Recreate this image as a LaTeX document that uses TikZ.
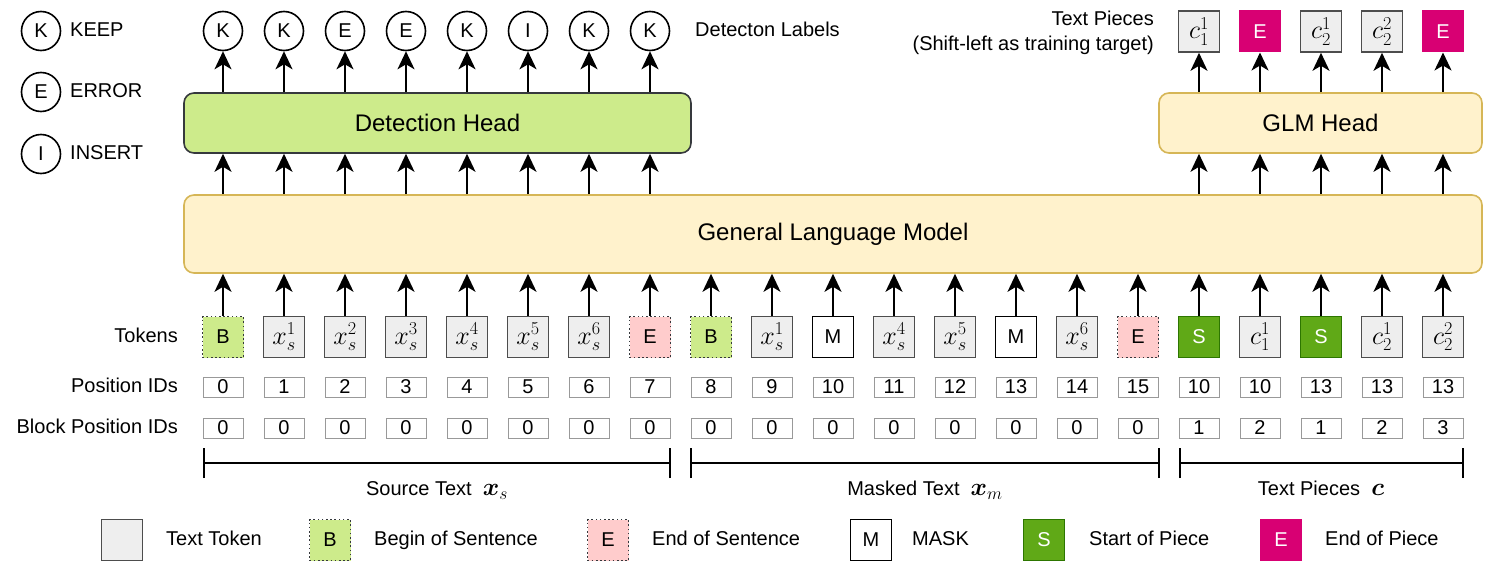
\RequirePackage{fix-cm}
\documentclass[tikz,border=0pt]{standalone}
\usepackage{fontspec}
\setmainfont{Liberation Sans}
\usepackage{bm}
\usetikzlibrary{arrows.meta}
\definecolor{tokfill}{HTML}{EEEEEE}
\definecolor{tokdraw}{HTML}{4D4D4D}
\definecolor{bosfill}{HTML}{CDEB8B}
\definecolor{eosfill}{HTML}{FFCCCC}
\definecolor{sfill}{HTML}{60A917}
\definecolor{sdraw}{HTML}{2D7600}
\definecolor{piecemag}{HTML}{D80073}
\definecolor{glmfill}{HTML}{FFF2CC}
\definecolor{glmdraw}{HTML}{D6B656}
\definecolor{detdraw}{HTML}{36393D}
\definecolor{idgray}{HTML}{999999}
\newcommand\fsm{\fontsize{20}{25}\selectfont}
\newcommand\fsl{\fontsize{24}{28}\selectfont}
\newcommand\fsb{\fontsize{25}{28}\selectfont}
\newcommand\mtok[1]{{\fontsize{26}{30}\selectfont$#1$}}
\begin{document}
\begin{tikzpicture}[x=1pt,y=-1pt,
  sq/.style={minimum width=41, minimum height=41, inner sep=0, font=\fsm},
  tok/.style={sq, draw=tokdraw, fill=tokfill, line width=1.6},
  bos/.style={sq, draw=detdraw, fill=bosfill, line width=1.6, dash pattern=on 1.6pt off 2.6pt},
  eos/.style={sq, draw=detdraw, fill=eosfill, line width=1.6, dash pattern=on 1.6pt off 2.6pt},
  msk/.style={sq, draw=black, fill=white, line width=1.6},
  sop/.style={sq, draw=sdraw, fill=sfill, line width=1.6, text=white},
  eop/.style={sq, draw=piecemag, fill=piecemag, line width=1, text=white},
  idbox/.style={draw=idgray, line width=0.9, fill=white, minimum width=40, minimum height=20, inner sep=0, font=\fsm},
  lab/.style={circle, draw=black, line width=1.6, minimum size=39, inner sep=0, font=\fsm},
  txt/.style={inner sep=0, font=\fsm, text height=14.5, text depth=4},
  head/.style={rounded corners=10, line width=1.6, font=\fsl},
  arr/.style={line width=2, -{Stealth[length=18pt, width=17pt, inset=5pt]}},
  brk/.style={line width=1.9}
]
\useasboundingbox (0,0) rectangle (1494,567);

% big boxes
\node[head, draw=glmdraw, fill=glmfill, minimum width=1298, minimum height=78] (glm) at (833,234) {General Language Model};
\node[head, draw=detdraw, fill=bosfill, minimum width=507, minimum height=60] (det) at (437.5,123) {Detection Head};
\node[head, draw=glmdraw, fill=glmfill, minimum width=323, minimum height=60] (gh) at (1320.5,123) {GLM Head};

% tokens
\node[bos] (t0) at (223,337) {B};
\node[tok] (t1) at (284,337) {\mtok{x_s^1}};
\node[tok] (t2) at (345,337) {\mtok{x_s^2}};
\node[tok] (t3) at (406,337) {\mtok{x_s^3}};
\node[tok] (t4) at (467,337) {\mtok{x_s^4}};
\node[tok] (t5) at (528,337) {\mtok{x_s^5}};
\node[tok] (t6) at (589,337) {\mtok{x_s^6}};
\node[eos] (t7) at (650,337) {E};
\node[bos] (t8) at (711,337) {B};
\node[tok] (t9) at (772,337) {\mtok{x_s^1}};
\node[msk] (t10) at (833,337) {M};
\node[tok] (t11) at (894,337) {\mtok{x_s^4}};
\node[tok] (t12) at (955,337) {\mtok{x_s^5}};
\node[msk] (t13) at (1016,337) {M};
\node[tok] (t14) at (1077,337) {\mtok{x_s^6}};
\node[eos] (t15) at (1138,337) {E};
\node[sop] (t16) at (1199,337) {S};
\node[tok] (t17) at (1260,337) {\mtok{c_1^1}};
\node[sop] (t18) at (1321,337) {S};
\node[tok] (t19) at (1382,337) {\mtok{c_2^1}};
\node[tok] (t20) at (1443,337) {\mtok{c_2^2}};

% position ids
\foreach \v [count=\i from 0] in {0,1,2,3,4,5,6,7,8,9,10,11,12,13,14,15,10,10,13,13,13}
  \node[idbox] (p\i) at ({223+61*\i},387) {\v};
\foreach \v [count=\i from 0] in {0,0,0,0,0,0,0,0,0,0,0,0,0,0,0,0,1,2,1,2,3}
  \node[idbox] (b\i) at ({223+61*\i},428) {\v};

% row labels
\node[txt, anchor=east] (ltok) at (178,337) {Tokens};
\node[txt, anchor=east] (lpos) at (178,387) {Position IDs};
\node[txt, anchor=east] (lblk) at (178,428) {Block Position IDs};

% detection labels
\foreach \l [count=\i from 0] in {K,K,E,E,K,I,K,K}
  \node[lab] (c\i) at ({223+61*\i},31) {\l};
\node[txt, anchor=west] (dl) at (695,31) {Detecton Labels};

% text pieces outputs
\node[tok] (o16) at (1199,31.5) {\mtok{c_1^1}};
\node[eop] (o17) at (1260,31.5) {E};
\node[tok] (o18) at (1321,31.5) {\mtok{c_2^1}};
\node[tok] (o19) at (1382,31.5) {\mtok{c_2^2}};
\node[eop] (o20) at (1443,31.5) {E};
\node[inner sep=0, font=\fsm, anchor=east, align=right] (tpl) at (1154,32.5) {Text Pieces\\(Shift-left as training target)};

% arrows
\foreach \i in {0,...,20}
  \draw[arr] (t\i.north) -- (t\i.north |- glm.south);
\foreach \i in {0,...,7} {
  \draw[arr] (t\i |- glm.north) -- (t\i |- det.south);
  \draw[arr] (t\i |- det.north) -- (c\i.south);
}
\foreach \i in {16,...,20} {
  \draw[arr] (t\i |- glm.north) -- (t\i |- gh.south);
  \draw[arr] (t\i |- gh.north) -- (o\i.south);
}

% top-left legend
\node[lab] (kk) at (41,31) {K};
\node[txt, anchor=west] at (70,31) {KEEP};
\node[lab] (ee) at (41,92) {E};
\node[txt, anchor=west] at (70,92) {ERROR};
\node[lab] (ii) at (41,154) {I};
\node[txt, anchor=west] at (70,154) {INSERT};

% brackets
\coordinate (sa) at (204,463); \coordinate (sb) at (670,463);
\coordinate (ma) at (691,463); \coordinate (mb) at (1159,463);
\coordinate (ca) at (1180,463); \coordinate (cb) at (1463,463);
\foreach \a/\b in {sa/sb, ma/mb, ca/cb} {
  \draw[brk] (\a) -- (\b);
  \draw[brk] ([yshift=-15]\a) -- ([yshift=15]\a);
  \draw[brk] ([yshift=-15]\b) -- ([yshift=15]\b);
}
\node[txt] (st) at (437,490) {Source Text\ \ {\fsb$\bm{x}_s$}};
\node[txt] (mt) at (925,490) {Masked Text\ \ {\fsb$\bm{x}_m$}};
\node[txt] (ct) at (1321,490) {Text Pieces\ \ {\fsb$\bm{c}$}};

% bottom legend
\node[tok] (g1) at (122,540) {};
\node[txt, anchor=west] at (166,540) {Text Token};
\node[bos] (g2) at (330,540) {B};
\node[txt, anchor=west] at (374,540) {Begin of Sentence};
\node[eos] (g3) at (608,540) {E};
\node[txt, anchor=west] at (652,540) {End of Sentence};
\node[msk] (g4) at (871,540) {M};
\node[txt, anchor=west] at (912,540) {MASK};
\node[sop] (g5) at (1044,540) {S};
\node[txt, anchor=west] at (1089,540) {Start of Piece};
\node[eop] (g6) at (1281,540) {E};
\node[txt, anchor=west] at (1325,540) {End of Piece};
\end{tikzpicture}
\end{document}
